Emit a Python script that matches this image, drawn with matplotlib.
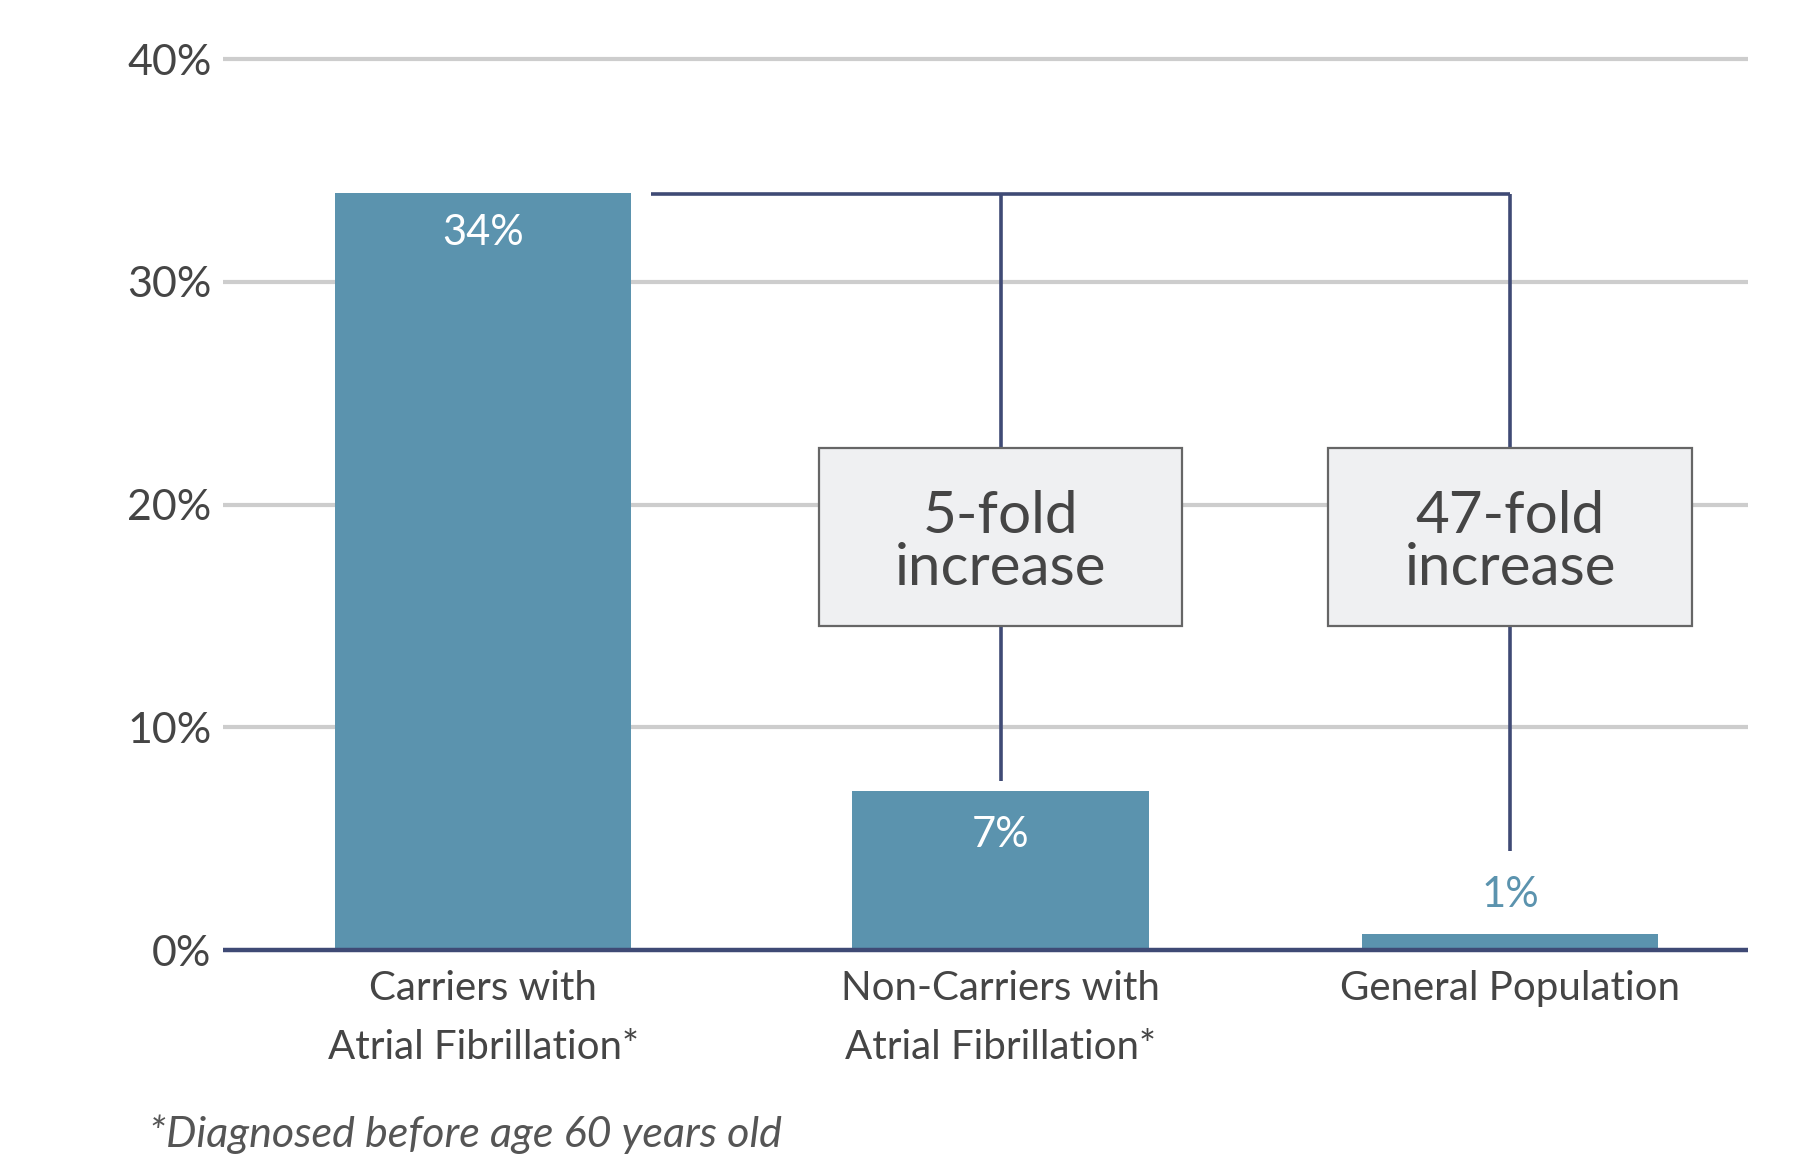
import matplotlib.pyplot as plt
from matplotlib.patches import Rectangle

plt.rcParams['font.family'] = ['Lato', 'DejaVu Sans']

# data
categories = ['Carriers with\nAtrial Fibrillation*',
              'Non-Carriers with\nAtrial Fibrillation*',
              'General Population']
values = [34.0, 7.15, 0.73]
value_labels = ['34%', '7%', '1%']
fold_labels = ['5-fold\nincrease', '47-fold\nincrease']
yticks = [0, 10, 20, 30, 40]
footnote = '*Diagnosed before age 60 years old'

bar_col = '#5B93AE'
navy = '#3F4A75'
grid_col = '#CDCDCD'
text_col = '#454545'

fig = plt.figure(figsize=(18, 11.76), dpi=100)
ax = fig.add_axes([0.1237, 0.1827, 0.8473, 0.7858])

x = [0, 1.008, 2]
ax.bar(x, values, width=0.577, color=bar_col, zorder=2)
ax.set_xlim(-0.507, 2.463)
ax.set_ylim(-0.5, 41)

# gridlines
for t in yticks[1:]:
    ax.axhline(t, color=grid_col, lw=3, zorder=1)
ax.axhline(0, color=navy, lw=3.2, zorder=4)

for s in ax.spines.values():
    s.set_visible(False)
ax.set_xticks([])
ax.set_yticks(yticks)
ax.set_yticklabels(['%d%%' % t for t in yticks], fontsize=31, color=text_col)
ax.tick_params(axis='y', length=0, pad=8)

# value labels
ax.text(x[0], values[0] - 0.95, value_labels[0], ha='center', va='top',
        fontsize=30, color='white', zorder=5)
ax.text(x[1], values[1] - 1.15, value_labels[1], ha='center', va='top',
        fontsize=30, color='white', zorder=5)
ax.text(x[2], 2.45, value_labels[2], ha='center', va='center',
        fontsize=30, color=bar_col, zorder=5)

# bracket
top = 33.93
ax.plot([0.328, x[2]], [top, top], color=navy, lw=2.6, zorder=3,
        solid_capstyle='butt')
ax.plot([x[1], x[1]], [top, 7.6], color=navy, lw=2.6, zorder=3,
        solid_capstyle='butt')
ax.plot([x[2], x[2]], [top, 4.45], color=navy, lw=2.6, zorder=3,
        solid_capstyle='butt')

# fold boxes
for xi, lab in zip(x[1:], fold_labels):
    ax.add_patch(Rectangle((xi - 0.354, 14.53), 0.708, 8.02, facecolor='#EFF0F2',
                           edgecolor='#666666', lw=1.6, zorder=4))
    ax.text(xi, 18.3, lab, ha='center', va='center', fontsize=42,
            color=text_col, linespacing=0.98, zorder=5)

# category labels
for xi, lab in zip(x, categories):
    ax.text(xi, -0.9, lab, ha='center', va='top', fontsize=29,
            color=text_col, linespacing=1.72)

fig.text(0.083, 0.025, footnote, ha='left', va='baseline', fontsize=31,
         style='italic', color='#555555')

fig.savefig('out.png', dpi=100)
